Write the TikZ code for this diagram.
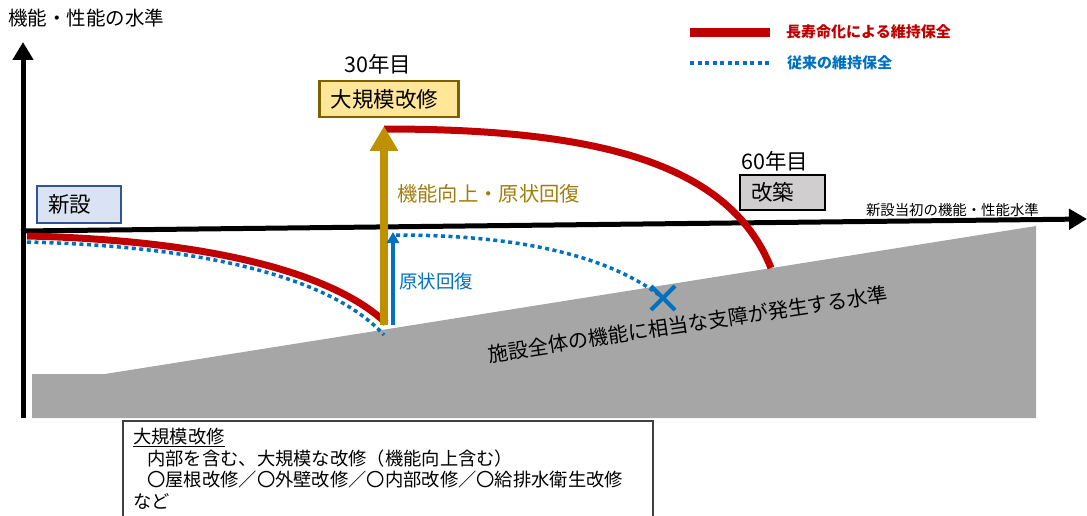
\documentclass[tikz,border=0pt]{standalone}
\usepackage{fontspec}
\setmainfont{Noto Sans CJK JP}
\usetikzlibrary{arrows.meta}
\definecolor{myred}{HTML}{C00000}
\definecolor{myblue}{HTML}{0070C0}
\definecolor{mygold}{HTML}{BF9000}
\definecolor{goldtext}{HTML}{A07D12}
\definecolor{groundgray}{HTML}{A6A6A6}
\definecolor{goldfill}{HTML}{FFE699}
\definecolor{goldborder}{HTML}{7F6000}
\definecolor{newfill}{HTML}{DAE3F3}
\definecolor{newborder}{HTML}{2F5597}
\definecolor{rebuildfill}{HTML}{D0CECE}
\definecolor{descborder}{HTML}{404040}
\tikzset{
  fs/.style={font=\fontsize{#1pt}{#1pt}\selectfont},
  fsb/.style={font=\fontsize{#1pt}{#1pt}\selectfont\bfseries},
  axisline/.style={line width=5pt, -{Triangle[width=20pt,length=18pt]}},
  redline/.style={myred, line width=7pt},
  bluedot/.style={myblue, line width=3.5pt, dash pattern=on 4pt off 3.5pt},
  labelbox/.style={draw, line width=2pt, anchor=north west, align=left, inner xsep=11pt, inner ysep=0pt},
  plain/.style={inner sep=0pt},
}
\begin{document}
\begin{tikzpicture}[x=1pt,y=-1pt]
\useasboundingbox (0,0) rectangle (1087,516);
% ground
\fill[groundgray] (32,374) -- (105,374) -- (1036,226) -- (1036,418) -- (32,418) -- cycle;
\node[plain, fs=20.2, rotate=8.7] (limit) at (688,324) {施設全体の機能に相当な支障が発生する水準};
% axes
\coordinate (origin) at (23,418);
\coordinate (ytip) at (23,42);
\coordinate (xstart) at (21,231);
\coordinate (xtip) at (1087,219);
\draw[axisline] (origin) -- (ytip);
\draw[axisline] (xstart) -- (xtip);
\node[plain, fs=19.5, anchor=west] (ylabel) at (8,18) {機能・性能の水準};
\node[plain, fs=14.4, anchor=east] (xlabel) at (1039,210) {新設当初の機能・性能水準};
% curves
\coordinate (r1s) at (27,236);
\coordinate (r1e) at (386,323);
\coordinate (b1s) at (27,242);
\coordinate (b1e) at (384,335);
\coordinate (r2s) at (384,129);
\coordinate (r2e) at (771,268);
\coordinate (b2s) at (396,235);
\coordinate (xmark) at (663,298);
\draw[redline] (r1s) .. controls (200,240) and (330,270) .. (r1e);
\draw[bluedot] (b1s) .. controls (200,246) and (330,276) .. (b1e);
\draw[redline] (r2s) .. controls (590,129) and (728,160) .. (r2e);
\draw[bluedot] (b2s) .. controls (520,235) and (610,256) .. (xmark);
% arrows
\coordinate (gbot) at (384,325);
\coordinate (gtop) at (384,126);
\coordinate (bbot) at (393,325);
\coordinate (btop) at (393,232);
\draw[mygold, line width=8pt, -{Triangle[width=27pt,length=25pt]}] (gbot) -- (gtop);
\draw[myblue, line width=4pt, -{Triangle[width=12pt,length=11pt]}] (bbot) -- (btop);
\draw[myblue, line width=4pt] ([shift={(-12,-12)}]xmark) -- ([shift={(12,12)}]xmark)
  ([shift={(-12,12)}]xmark) -- ([shift={(12,-12)}]xmark);
\node[plain, fs=20.3, anchor=west, text=goldtext] (uplabel) at (397,194) {機能向上・原状回復};
\node[plain, fs=18.5, anchor=west, text=myblue] (restlabel) at (399,281) {原状回復};
% boxes
\node[labelbox, fs=21.5, fill=newfill, draw=newborder, text width=62pt, minimum height=37pt] (shinsetsu) at (36,185) {新設};
\node[plain, fs=21.5] (y30) at (378,64) {30年目};
\node[labelbox, fs=21.5, fill=goldfill, draw=goldborder, line width=2.5pt, text width=116pt, inner xsep=11.5pt, minimum height=36pt] (reno) at (318,80) {大規模改修};
\node[plain, fs=21.5] (y60) at (775,161) {60年目};
\node[labelbox, fs=21.5, fill=rebuildfill, draw=black, text width=63pt, minimum height=35pt] (rebuild) at (739,174) {改築};
% legend
\coordinate (lr1) at (690,33);
\coordinate (lr2) at (770,33);
\coordinate (lb1) at (690,63);
\coordinate (lb2) at (770,63);
\draw[myred, line width=9pt] (lr1) -- (lr2);
\draw[bluedot] (lb1) -- (lb2);
\node[plain, fsb=15, anchor=west, text=myred] (lrt) at (786,32) {長寿命化による維持保全};
\node[plain, fsb=15, anchor=west, text=myblue] (lbt) at (787,63) {従来の維持保全};
% description
\node[draw=descborder, line width=1.5pt, anchor=north west, minimum width=530pt, minimum height=110pt, inner sep=0pt] (descbox) at (122,420) {};
\node[plain, anchor=north west, align=left, font=\fontsize{18.3pt}{21.5pt}\selectfont] (desctext) at (133,428)
  {\underline{大規模改修}\\\hspace*{14pt}内部を含む、大規模な改修（機能向上含む）\\\hspace*{14pt}〇屋根改修／〇外壁改修／〇内部改修／〇給排水衛生改修\\など};
\end{tikzpicture}
\end{document}
